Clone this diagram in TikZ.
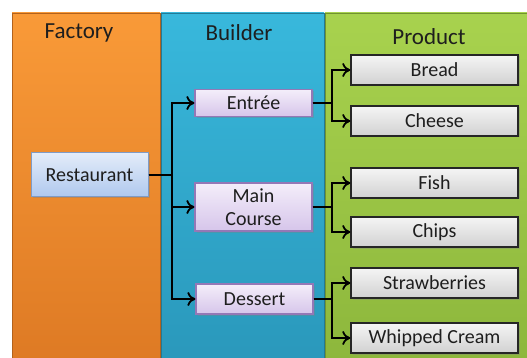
\documentclass[tikz,border=0pt]{standalone}
\usepackage{fontspec}
\setmainfont{Carlito}
\usetikzlibrary{arrows.meta,shadows}
\definecolor{orT}{HTML}{F99A38}
\definecolor{orB}{HTML}{DE7A24}
\definecolor{blT}{HTML}{38B8DC}
\definecolor{blB}{HTML}{2A98BB}
\definecolor{grT}{HTML}{A8D24E}
\definecolor{grB}{HTML}{8DB73C}
\definecolor{txt}{HTML}{1E1E1E}
\definecolor{rsT}{HTML}{E3ECF9}
\definecolor{rsB}{HTML}{AFC8EE}
\definecolor{rsD}{HTML}{7F9BC6}
\definecolor{bdT}{HTML}{F4EEFA}
\definecolor{bdB}{HTML}{D6C5EA}
\definecolor{bdD}{HTML}{9478B6}
\begin{document}
\begin{tikzpicture}[x=1pt,y=-1pt,
  title/.style={font=\fontsize{23}{25}\selectfont,text=txt,anchor=base},
  box/.style={minimum width=#1,inner sep=0pt,align=center,text=txt,
    font=\fontsize{20}{23}\selectfont,
    drop shadow={shadow xshift=1.5pt,shadow yshift=-1.5pt,opacity=0.35}},
  restbox/.style={box=117pt,draw=rsD,line width=1pt,top color=rsT,bottom color=rsB,minimum height=44pt},
  bldbox/.style={box=117pt,draw=bdD,line width=1.2pt,top color=bdT,bottom color=bdB,minimum height=#1},
  prodbox/.style={box=167pt,draw=black!85,line width=1.4pt,top color=white!96!black,bottom color=black!18,minimum height=30pt},
  arr/.style={line width=2pt,draw=black,-{To[length=8pt,width=14pt,line width=1.8pt]}}]
\useasboundingbox (0,0) rectangle (527,358);
% panels
\path[top color=orT,bottom color=orB,draw=orB!80!black,line width=0.6pt] (12,13) rectangle (160,362);
\path[top color=blT,bottom color=blB,draw=blB!80!black,line width=0.6pt] (161,13) rectangle (324,362);
\path[top color=grT,bottom color=grB,draw=grB!80!black,line width=0.6pt] (325,13) rectangle (531,362);
% titles
\node[title] (tf) at (79,39) {Factory};
\node[title] (tb) at (239,41) {Builder};
\node[title] (tp) at (429,45) {Product};
% factory
\node[restbox] (rest) at (89.5,175) {Restaurant};
% builders
\node[bldbox=27pt] (ent) at (253.5,103) {Entrée};
\node[bldbox=48pt] (main) at (253.5,207) {Main\\Course};
\node[bldbox=30pt] (des) at (254.5,299) {Dessert};
% products
\node[prodbox] (bread) at (434.5,70) {Bread};
\node[prodbox] (cheese) at (434.5,121) {Cheese};
\node[prodbox] (fish) at (434.5,183) {Fish};
\node[prodbox] (chips) at (434.5,232) {Chips};
\node[prodbox] (straw) at (434.5,283) {Strawberries};
\node[prodbox] (cream) at (434.5,338) {Whipped Cream};
% junctions
\coordinate (jr) at (172,175);
\coordinate (je) at (332,103);
\coordinate (jm) at (332,207);
\coordinate (jd) at (332,299);
% connectors
\draw[arr] (rest.east) -- (jr) |- (ent.west);
\draw[arr] (rest.east) -- (jr) |- (main.west);
\draw[arr] (rest.east) -- (jr) |- (des.west);
\draw[arr] (ent.east) -- (je) |- (bread.west);
\draw[arr] (ent.east) -- (je) |- (cheese.west);
\draw[arr] (main.east) -- (jm) |- (fish.west);
\draw[arr] (main.east) -- (jm) |- (chips.west);
\draw[arr] (des.east) -- (jd) |- (straw.west);
\draw[arr] (des.east) -- (jd) |- (cream.west);
\end{tikzpicture}
\end{document}
